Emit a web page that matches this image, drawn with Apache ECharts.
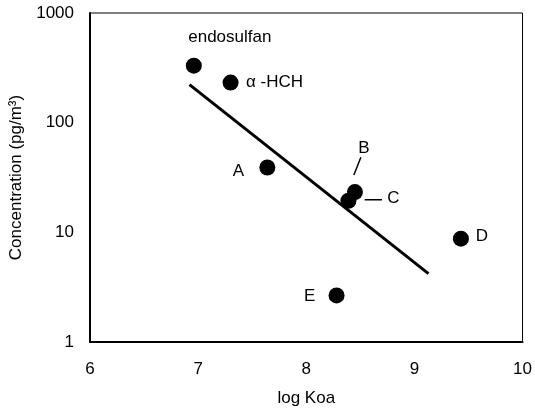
<!DOCTYPE html>
<html>
<head>
<meta charset="utf-8">
<script src="https://cdn.jsdelivr.net/npm/echarts@6/dist/echarts.min.js"></script>
<style>
  html, body { margin: 0; padding: 0; background: #fff; }
  #chart { width: 535px; height: 412px; }
</style>
</head>
<body>
<div id="chart"></div>
<script>
// compounds and their positions
var names = ['endosulfan', 'α -HCH', 'A', 'B', 'C', 'D', 'E'];
var logKoa = [6.96, 7.30, 7.64, 8.45, 8.39, 9.43, 8.28];
var conc = [331, 232, 39, 23.3, 19.4, 8.75, 2.66];

// regression line end points
var fitX = [6.92, 9.13];
var fitY = [222, 4.2];

// leader lines next to B and C
var leaderB = [[8.44, 33.3], [8.505, 48.4]];
var leaderC = [[8.54, 19.8], [8.70, 19.8]];

// label offsets (px) around each dot
var labelOffset = {
  'endosulfan': [36, -28],
  'α -HCH': [44, 0],
  'A': [-29, 4],
  'B': [9, -44],
  'C': [45, -2],
  'D': [21, -2],
  'E': [-27, 1]
};

var FONT = '"Liberation Sans Narrow", "Liberation Sans", Arial, sans-serif';

var points = names.map(function (n, i) {
  return {
    name: n,
    value: [logKoa[i], conc[i]],
    label: { offset: labelOffset[n] }
  };
});

var fitLine = fitX.map(function (x, i) { return [x, fitY[i]]; });

var chart = echarts.init(document.getElementById('chart'));
chart.setOption({
  animation: false,
  backgroundColor: '#fff',
  grid: {
    left: 90, right: 9, top: 13, bottom: 68,
    show: true, borderColor: '#000', borderWidth: 1
  },
  xAxis: {
    type: 'value',
    min: 6, max: 10, interval: 1,
    name: 'log Koa',
    nameLocation: 'middle',
    nameGap: 48,
    nameTextStyle: { fontFamily: FONT, fontSize: 17, color: '#000' },
    axisLine: { lineStyle: { color: '#000', width: 2 } },
    axisTick: { show: false },
    splitLine: { show: false },
    axisLabel: { fontFamily: FONT, fontSize: 17, color: '#000', margin: 19 }
  },
  yAxis: {
    type: 'log',
    logBase: 10,
    min: 1, max: 1000,
    name: 'Concentration (pg/m³)',
    nameLocation: 'middle',
    nameGap: 63,
    nameTextStyle: { fontFamily: FONT, fontSize: 17, color: '#000' },
    axisLine: { lineStyle: { color: '#000', width: 2 } },
    axisTick: { show: false },
    splitLine: { show: false },
    minorTick: { show: false },
    axisLabel: {
      fontFamily: FONT, fontSize: 17, color: '#000', margin: 16,
      formatter: function (v) { return String(v); }
    }
  },
  series: [
    {
      type: 'line',
      data: fitLine,
      symbol: 'none',
      lineStyle: { color: '#000', width: 3 },
      z: 2
    },
    {
      type: 'scatter',
      data: points,
      symbolSize: 16,
      itemStyle: { color: '#000', opacity: 1 },
      label: {
        show: true,
        position: 'inside',
        formatter: '{b}',
        fontFamily: FONT,
        fontSize: 17,
        color: '#000'
      },
      z: 3
    },
    {
      type: 'line',
      data: leaderB,
      symbol: 'none',
      lineStyle: { color: '#000', width: 1.5 },
      silent: true
    },
    {
      type: 'line',
      data: leaderC,
      symbol: 'none',
      lineStyle: { color: '#000', width: 1.5 },
      silent: true
    }
  ]
});
</script>
</body>
</html>
